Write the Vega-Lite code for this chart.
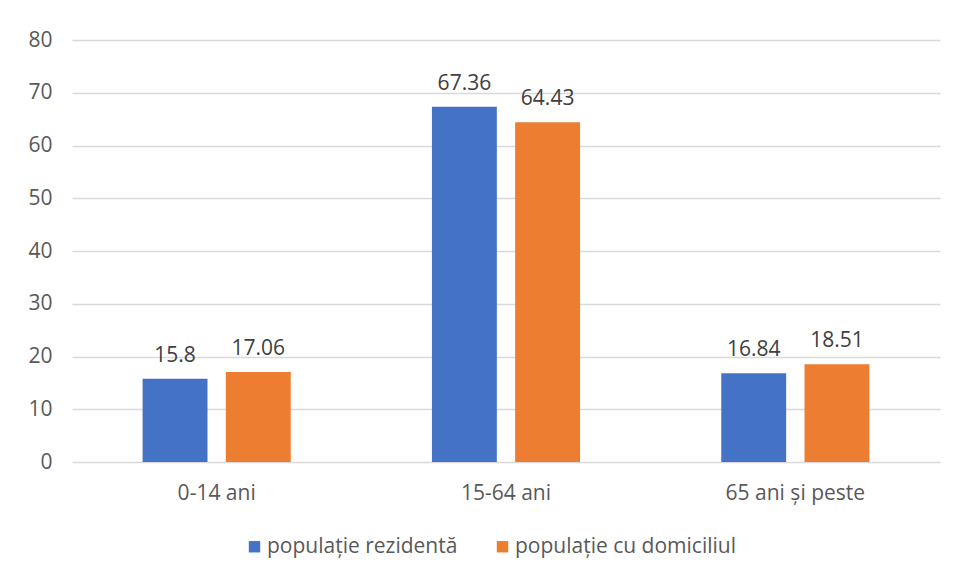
{
  "$schema": "https://vega.github.io/schema/vega-lite/v6.json",
  "width": 868,
  "height": 422,
  "autosize": {"type": "none"},
  "padding": {"left": 72, "top": 40, "right": 16, "bottom": 119},
  "background": "white",
  "config": {
    "view": {"stroke": null},
    "font": "Open Sans"
  },
  "data": {
    "values": [
      {"grupa": "0-14 ani", "serie": "populație rezidentă", "valoare": 15.8},
      {"grupa": "0-14 ani", "serie": "populație cu domiciliul", "valoare": 17.06},
      {"grupa": "15-64 ani", "serie": "populație rezidentă", "valoare": 67.36},
      {"grupa": "15-64 ani", "serie": "populație cu domiciliul", "valoare": 64.43},
      {"grupa": "65 ani și peste", "serie": "populație rezidentă", "valoare": 16.84},
      {"grupa": "65 ani și peste", "serie": "populație cu domiciliul", "valoare": 18.51}
    ]
  },
  "encoding": {
    "x": {
      "field": "grupa", "type": "nominal", "sort": null, "title": null,
      "scale": {"paddingInner": 0.488, "paddingOuter": 0.244},
      "axis": {"labelAngle": 0, "domain": false, "ticks": false, "labelPadding": 20, "grid": false, "labelFont": "Open Sans", "labelFontSize": 21, "labelColor": "#595959"}
    },
    "xOffset": {
      "field": "serie", "type": "nominal",
      "sort": ["populație rezidentă", "populație cu domiciliul"],
      "scale": {"paddingInner": 0.22, "paddingOuter": 0}
    },
    "y": {
      "field": "valoare", "type": "quantitative", "title": null,
      "scale": {"domain": [0, 80]},
      "axis": {"values": [0,10,20,30,40,50,60,70,80], "domain": false, "ticks": false, "labelPadding": 20, "gridColor": "#d9d9d9", "gridWidth": 1.5, "labelFont": "Open Sans", "labelFontSize": 21, "labelColor": "#595959"}
    }
  },
  "layer": [
    {
      "mark": {"type": "bar"},
      "encoding": {
        "color": {
          "field": "serie", "type": "nominal",
          "sort": ["populație rezidentă", "populație cu domiciliul"],
          "scale": {"domain": ["populație rezidentă", "populație cu domiciliul"], "range": ["#4472C4", "#ED7D31"]},
          "legend": {
            "title": null, "orient": "none", "direction": "horizontal",
            "legendX": 172, "legendY": 496,
            "symbolType": "square", "symbolSize": 130, "symbolStrokeWidth": 0,
            "labelFontSize": 21, "labelColor": "#595959", "labelFont": "Open Sans",
            "labelLimit": 400, "columnPadding": 34, "labelOffset": 2
          }
        }
      }
    },
    {
      "mark": {"type": "text", "baseline": "alphabetic", "dy": -17, "fontSize": 21, "color": "#404040", "font": "Open Sans"},
      "encoding": {
        "text": {"field": "valoare", "type": "quantitative"}
      }
    }
  ]
}
